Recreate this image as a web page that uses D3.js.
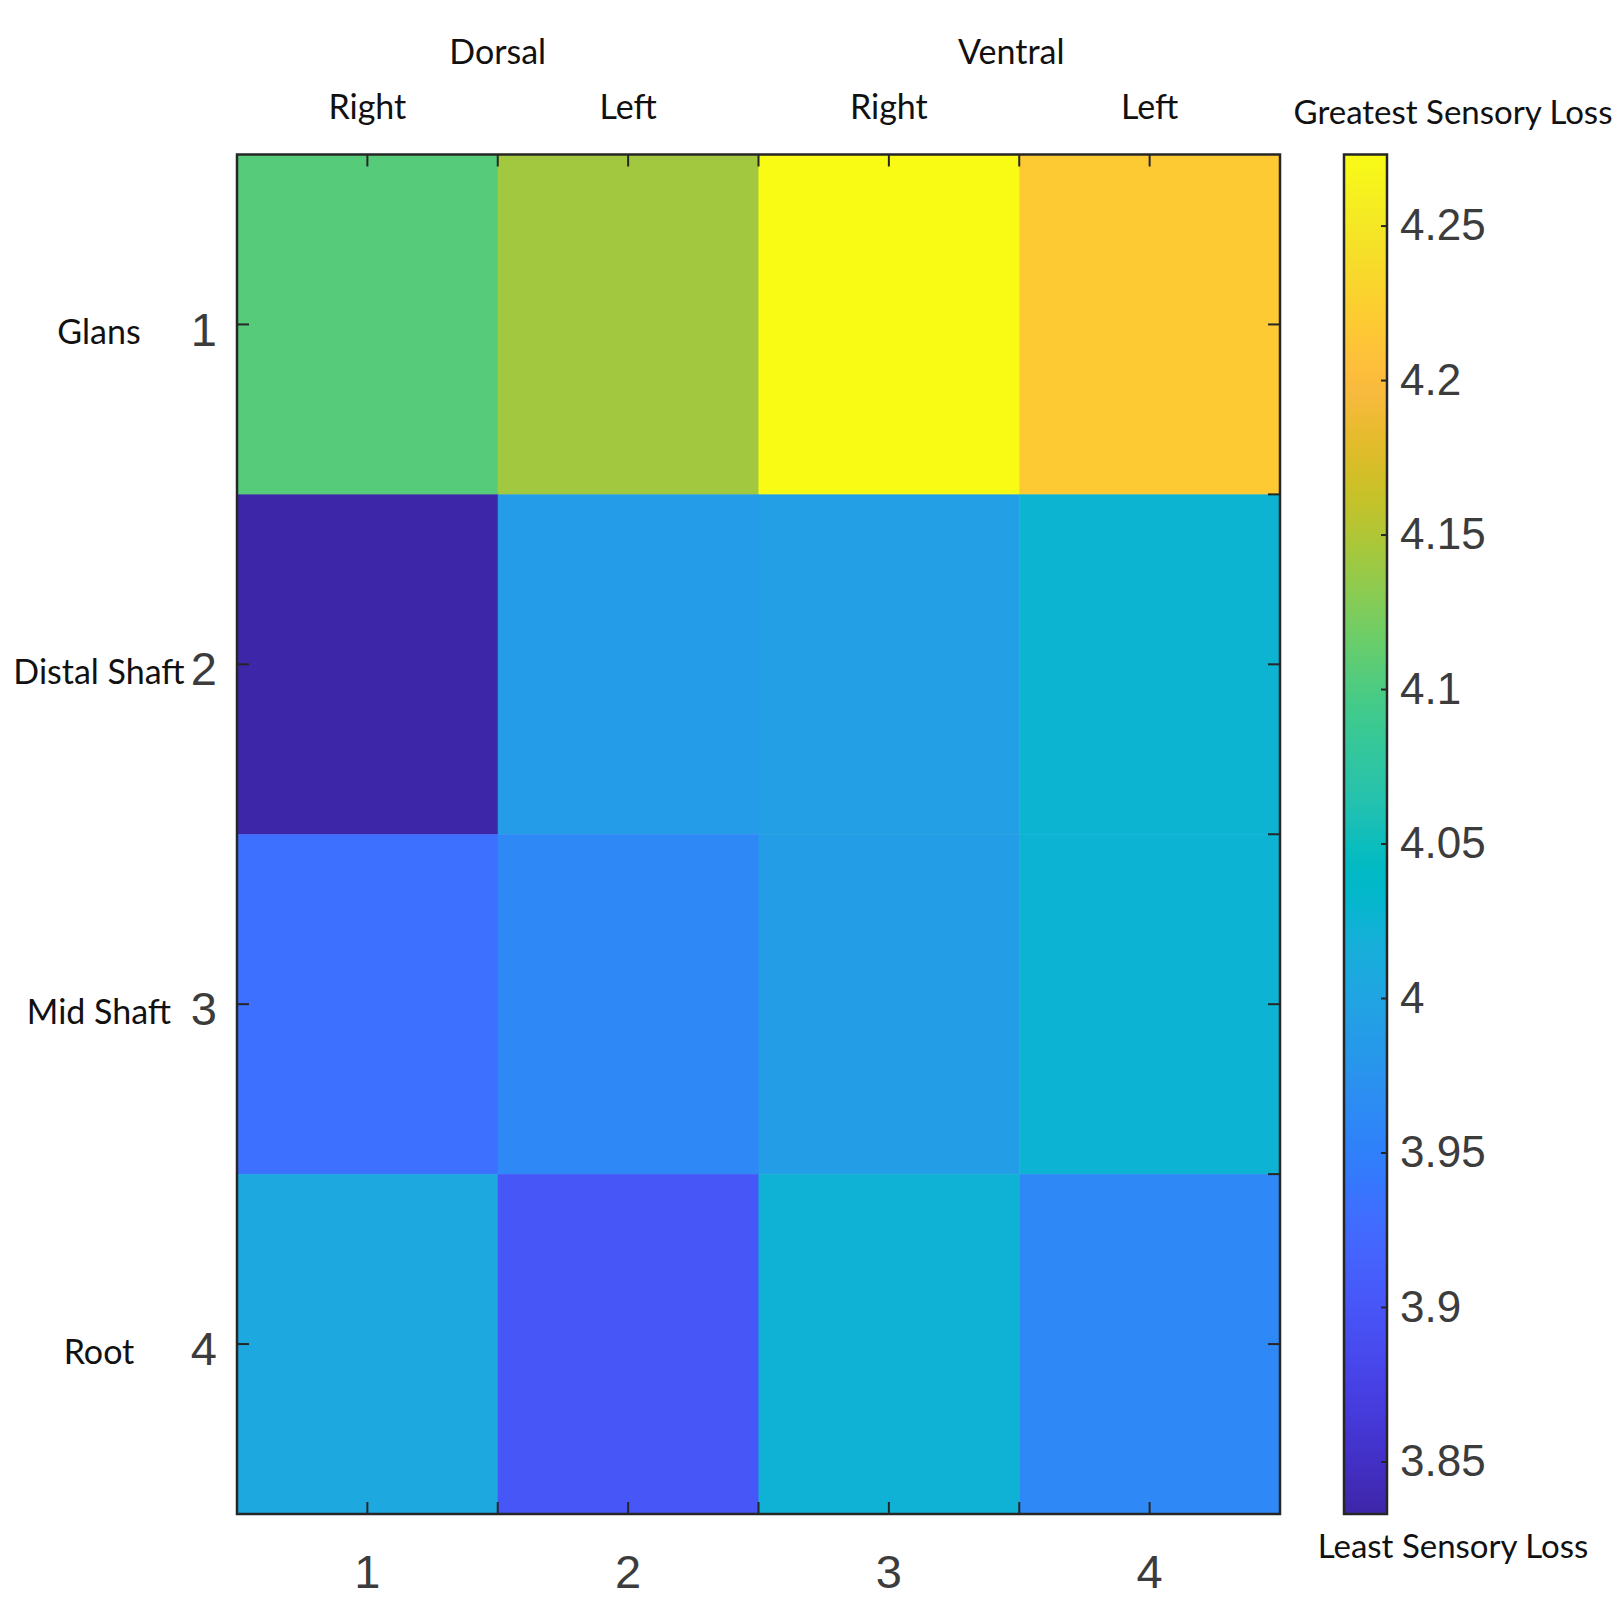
<!DOCTYPE html>
<html>
<head>
<meta charset="utf-8">
<script src="https://cdn.jsdelivr.net/npm/d3@7"></script>
<style>
  html, body { margin: 0; padding: 0; background: #ffffff; }
  svg { display: block; }
  .lbl { font-family: Lato, "Open Sans", sans-serif; fill: #111; }
  .num { font-family: "Liberation Sans", Arial, sans-serif; fill: #3c3c3c; }
</style>
</head>
<body>
<svg id="chart" width="1615" height="1599"></svg>
<script>
// Row / column categories
const rowIds = [1, 2, 3, 4];
const rowNames = ["Glans", "Distal Shaft", "Mid Shaft", "Root"];
const colIds = [1, 2, 3, 4];
const colSides = ["Right", "Left", "Right", "Left"];
const colGroups = ["Dorsal", "Ventral"];

// Mean sensory-loss score per region (rows) and quadrant (columns)
const glans       = [4.105, 4.143, 4.273, 4.218];
const distalShaft = [3.833, 3.988, 3.993, 4.026];
const midShaft    = [3.932, 3.960, 3.990, 4.025];
const root        = [4.006, 3.900, 4.024, 3.960];
const rowValues = [glans, distalShaft, midShaft, root];

// Colour bar ticks and end captions
const barTicks = [3.85, 3.9, 3.95, 4, 4.05, 4.1, 4.15, 4.2, 4.25];
const barTop = "Greatest Sensory Loss";
const barBottom = "Least Sensory Loss";

// parula colormap (64 entries)
const parula = [
[0.2422,0.1504,0.6603],[0.2504,0.1650,0.7076],[0.2578,0.1818,0.7511],[0.2647,0.1978,0.7952],
[0.2706,0.2147,0.8364],[0.2751,0.2342,0.8710],[0.2783,0.2559,0.8991],[0.2803,0.2782,0.9221],
[0.2813,0.3006,0.9414],[0.2810,0.3228,0.9579],[0.2795,0.3447,0.9717],[0.2760,0.3667,0.9829],
[0.2699,0.3892,0.9906],[0.2602,0.4123,0.9952],[0.2440,0.4358,0.9988],[0.2206,0.4603,0.9973],
[0.1963,0.4847,0.9892],[0.1834,0.5074,0.9798],[0.1786,0.5289,0.9682],[0.1764,0.5499,0.9520],
[0.1687,0.5703,0.9359],[0.1540,0.5902,0.9218],[0.1460,0.6091,0.9079],[0.1380,0.6276,0.8973],
[0.1248,0.6459,0.8883],[0.1113,0.6635,0.8763],[0.0952,0.6798,0.8598],[0.0689,0.6948,0.8394],
[0.0297,0.7082,0.8163],[0.0036,0.7203,0.7917],[0.0067,0.7312,0.7660],[0.0433,0.7411,0.7394],
[0.0964,0.7500,0.7120],[0.1408,0.7584,0.6842],[0.1717,0.7670,0.6554],[0.1938,0.7758,0.6251],
[0.2161,0.7843,0.5923],[0.2470,0.7918,0.5567],[0.2906,0.7973,0.5188],[0.3406,0.8008,0.4789],
[0.3909,0.8029,0.4354],[0.4456,0.8024,0.3909],[0.5044,0.7993,0.3480],[0.5616,0.7942,0.3045],
[0.6174,0.7876,0.2612],[0.6720,0.7793,0.2227],[0.7242,0.7698,0.1910],[0.7738,0.7598,0.1646],
[0.8203,0.7498,0.1535],[0.8634,0.7406,0.1596],[0.9035,0.7330,0.1774],[0.9393,0.7288,0.2100],
[0.9728,0.7298,0.2394],[0.9956,0.7434,0.2371],[0.9970,0.7659,0.2199],[0.9952,0.7893,0.2028],
[0.9892,0.8136,0.1885],[0.9786,0.8386,0.1766],[0.9676,0.8639,0.1643],[0.9610,0.8890,0.1537],
[0.9597,0.9135,0.1423],[0.9628,0.9373,0.1265],[0.9691,0.9606,0.1064],[0.9769,0.9839,0.0805]
].map(c => d3.rgb(c[0] * 255, c[1] * 255, c[2] * 255).formatHex());

const parulaInterp = d3.scaleLinear()
  .domain(parula.map((_, i) => i / (parula.length - 1)))
  .range(parula)
  .interpolate(d3.interpolateRgb)
  .clamp(true);

// Build the cell table
const cells = [];
rowValues.forEach((vals, r) => vals.forEach((v, c) => cells.push({ row: rowIds[r], col: colIds[c], value: v })));
const extent = d3.extent(cells, d => d.value);
const norm = d3.scaleLinear().domain(extent).range([0, 1]);
const color = v => parulaInterp(norm(v));

// Layout
const plot = { left: 237, top: 154.5, right: 1280, bottom: 1514 };
const bar = { left: 1344, right: 1387 };
const ink = "#262626";

const svg = d3.select("#chart");

const x = d3.scaleBand().domain(colIds).range([plot.left, plot.right]).padding(0);
const y = d3.scaleBand().domain(rowIds).range([plot.top, plot.bottom]).padding(0);

// Heatmap cells
svg.append("g").selectAll("rect").data(cells).join("rect")
  .attr("x", d => x(d.col))
  .attr("y", d => y(d.row))
  .attr("width", x.bandwidth() + 0.5)
  .attr("height", y.bandwidth() + 0.5)
  .attr("fill", d => color(d.value));

// Axes with inward ticks
const tickLen = 12;
const styleAxis = g => {
  g.select(".domain").remove();
  g.selectAll(".tick line").attr("stroke", ink).attr("stroke-width", 2);
};

svg.append("g").attr("transform", `translate(0,${plot.bottom})`)
  .call(d3.axisBottom(x).tickSizeInner(-tickLen).tickSizeOuter(0).tickPadding(41))
  .call(styleAxis)
  .call(g => g.selectAll("text").attr("class", "num").attr("font-size", 47).attr("fill", "#3c3c3c"));

svg.append("g").attr("transform", `translate(${plot.left},0)`)
  .call(d3.axisLeft(y).tickSizeInner(-tickLen).tickSizeOuter(0).tickPadding(20))
  .call(styleAxis)
  .call(g => g.selectAll("text").attr("class", "num").attr("font-size", 47).attr("fill", "#3c3c3c").attr("dy", "0.45em"));

svg.append("g").attr("transform", `translate(0,${plot.top})`)
  .call(d3.axisTop(x).tickSizeInner(-tickLen).tickSizeOuter(0).tickPadding(36)
    .tickFormat((d, i) => colSides[i]))
  .call(styleAxis)
  .call(g => g.selectAll("text").attr("class", "lbl").attr("font-size", 34).attr("fill", "#111"));

svg.append("g").attr("transform", `translate(${plot.right},0)`)
  .call(d3.axisRight(y).tickSizeInner(-tickLen).tickSizeOuter(0).tickFormat(""))
  .call(styleAxis);

// Extra ticks on the cell boundaries
const colEdges = colIds.slice(1).map(c => x(c));
const rowEdges = rowIds.slice(1).map(r => y(r));
const edgeTicks = svg.append("g").attr("stroke", ink).attr("stroke-width", 2);
colEdges.forEach(e => {
  edgeTicks.append("line").attr("x1", e).attr("x2", e).attr("y1", plot.top).attr("y2", plot.top + tickLen);
  edgeTicks.append("line").attr("x1", e).attr("x2", e).attr("y1", plot.bottom).attr("y2", plot.bottom - tickLen);
});
rowEdges.forEach(e => {
  edgeTicks.append("line").attr("y1", e).attr("y2", e).attr("x1", plot.right).attr("x2", plot.right - tickLen);
});

// Plot frame
svg.append("rect")
  .attr("x", plot.left).attr("y", plot.top)
  .attr("width", plot.right - plot.left).attr("height", plot.bottom - plot.top)
  .attr("fill", "none").attr("stroke", ink).attr("stroke-width", 2.5);

// Region names beside the row numbers
svg.append("g").selectAll("text").data(rowIds).join("text")
  .attr("class", "lbl")
  .attr("x", 99)
  .attr("y", d => y(d) + y.bandwidth() / 2 + 8)
  .attr("dy", "0.35em")
  .attr("text-anchor", "middle")
  .attr("font-size", 34)
  .text((d, i) => rowNames[i]);

// Dorsal / Ventral group headers
svg.append("g").selectAll("text").data(colGroups).join("text")
  .attr("class", "lbl")
  .attr("x", (d, i) => (x(colIds[i * 2]) + x(colIds[i * 2 + 1]) + x.bandwidth()) / 2 - i * 8)
  .attr("y", 64)
  .attr("text-anchor", "middle")
  .attr("font-size", 34)
  .text(d => d);

// Colour bar
const yBar = d3.scaleLinear().domain(extent).range([plot.bottom, plot.top]);
const grad = svg.append("defs").append("linearGradient")
  .attr("id", "parulaGrad").attr("x1", 0).attr("y1", 1).attr("x2", 0).attr("y2", 0);
grad.selectAll("stop").data(parula).join("stop")
  .attr("offset", (d, i) => i / (parula.length - 1))
  .attr("stop-color", d => d);

svg.append("rect")
  .attr("x", bar.left).attr("y", plot.top)
  .attr("width", bar.right - bar.left).attr("height", plot.bottom - plot.top)
  .attr("fill", "url(#parulaGrad)")
  .attr("stroke", ink).attr("stroke-width", 2.5);

svg.append("g").attr("transform", `translate(${bar.right},0)`)
  .call(d3.axisRight(yBar).tickValues(barTicks).tickSizeInner(-6).tickSizeOuter(0).tickPadding(13)
    .tickFormat(d3.format("")))
  .call(styleAxis)
  .call(g => g.selectAll("text").attr("class", "num").attr("font-size", 44).attr("fill", "#3c3c3c"));

svg.append("text").attr("class", "lbl")
  .attr("x", 1453).attr("y", 124)
  .attr("text-anchor", "middle").attr("font-size", 33)
  .text(barTop);

svg.append("text").attr("class", "lbl")
  .attr("x", 1453).attr("y", 1558)
  .attr("text-anchor", "middle").attr("font-size", 33)
  .text(barBottom);
</script>
</body>
</html>
